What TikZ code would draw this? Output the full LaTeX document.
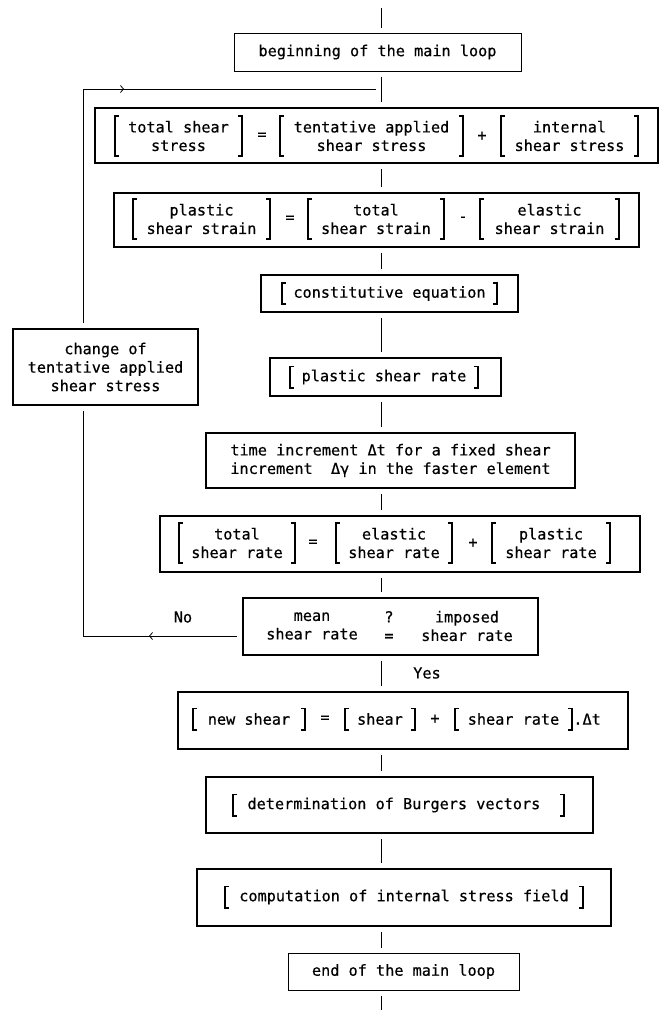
\documentclass[tikz,border=0pt]{standalone}
\usepackage{fontspec}
\setmainfont{DejaVu Sans Mono}[FakeBold=0.5]
\usetikzlibrary{arrows.meta,decorations.markings}
\newcommand\drawbrk[1]{\draw[brkline] ([xshift=4pt]#1.north west) -- (#1.north west) -- (#1.south west) -- ([xshift=4pt]#1.south west) ([xshift=-4pt]#1.north east) -- (#1.north east) -- (#1.south east) -- ([xshift=-4pt]#1.south east);}
\begin{document}
\begin{tikzpicture}[x=1pt,y=-1pt,
  every node/.style={font=\fontsize{15.2}{18.5}\selectfont, inner sep=0pt},
  thinbox/.style={draw, line width=1pt, align=center},
  thickbox/.style={draw, line width=2pt, align=center},
  grp/.style={align=center, minimum height=40pt},
  grpone/.style={align=center, minimum height=21pt},
  link/.style={line width=0.8pt, shorten <=5pt, shorten >=5pt},
  brkline/.style={line width=1.6pt},
  midarrow/.style={postaction={decorate}, decoration={markings, mark=at position #1 with {\arrow{Straight Barb[length=3pt,width=7pt,line width=0.8pt]}}}}
]
\useasboundingbox (0,0) rectangle (664,1010);

% frames
\node[thinbox, minimum width=287pt, minimum height=38pt] (begin) at (377.5,52) {beginning of the main loop};
\node[thickbox, minimum width=563pt, minimum height=55pt] (stress) at (376.5,135.5) {};
\node[thickbox, minimum width=525pt, minimum height=54pt] (strain) at (376.5,220) {};
\node[thickbox, minimum width=257pt, minimum height=37pt] (const) at (389.5,293.5) {};
\node[thickbox, minimum width=231pt, minimum height=38pt] (psr) at (385.5,377) {};
\node[thickbox, minimum width=369pt, minimum height=55pt] (time) at (390.5,460.5) {time increment Δt for a fixed shear\\increment\ \ Δγ in the faster element};
\node[thickbox, minimum width=480pt, minimum height=56pt] (tsr) at (400,544) {};
\node[thickbox, minimum width=295pt, minimum height=57pt] (mean) at (390.5,626.5) {};
\node[thickbox, minimum width=450pt, minimum height=57pt] (newshear) at (403,720.5) {};
\node[thickbox, minimum width=387pt, minimum height=56pt] (burgers) at (399.5,805) {};
\node[thickbox, minimum width=414pt, minimum height=57pt] (comp) at (404,897.5) {};
\node[thinbox, minimum width=231pt, minimum height=37pt] (end) at (403.5,971.5) {end of the main loop};
\node[thickbox, minimum width=185pt, minimum height=76pt] (change) at (105.5,367) {change of\\tentative applied\\shear stress};

% row 1
\node[grp, minimum width=127pt] (g11) at (178.5,136) {total shear\\stress};
\node (o11) at (262,136) {=};
\node[grp, minimum width=183pt] (g12) at (371.5,136) {tentative applied\\shear stress};
\node (o12) at (482,136) {+};
\node[grp, minimum width=137pt] (g13) at (569.5,136) {internal\\shear stress};
% row 2
\node[grp, minimum width=137pt] (g21) at (201.5,219) {plastic\\shear strain};
\node (o21) at (290,219) {=};
\node[grp, minimum width=136pt] (g22) at (376,219) {total\\shear strain};
\node (o22) at (463,219) {-};
\node[grp, minimum width=139pt] (g23) at (549.5,219) {elastic\\shear strain};
% single rows
\node[grpone, minimum width=215pt] (g3) at (389.5,293.5) {constitutive equation};
\node[grpone, minimum width=188pt] (g4) at (384,377) {plastic shear rate};
% shear rate row
\node[grp, minimum width=116pt] (g61) at (237,543) {total\\shear rate};
\node (o61) at (313,543) {=};
\node[grp, minimum width=116pt] (g62) at (394,543) {elastic\\shear rate};
\node (o62) at (473,543) {+};
\node[grp, minimum width=118pt] (g63) at (551,543) {plastic\\shear rate};
% mean row
\node[align=center] (m1) at (312,626) {mean\\shear rate};
\node[align=center] (m2) at (389,626) {?\\=};
\node[align=center] (m3) at (467,626) {imposed\\shear rate};
% new shear row
\node[grpone, minimum width=112pt] (g71) at (249,719) {new shear};
\node (o71) at (325,719) {=};
\node[grpone, minimum width=70pt] (g72) at (380,719) {shear};
\node (o72) at (435,719) {+};
\node[grpone, minimum width=117pt] (g73) at (513.5,719) {shear rate};
\node[anchor=base west] (dt) at ([xshift=1pt]g73.base east) {.Δt};
% burgers, computation
\node[grpone, minimum width=331pt] (g8) at (398.5,805) {determination of Burgers vectors\ };
\node[grpone, minimum width=358pt] (g9) at (404,897) {computation of internal stress field};

\foreach \g in {g11,g12,g13,g21,g22,g23,g3,g4,g61,g62,g63,g71,g72,g73,g8,g9} {\drawbrk{\g}}

% labels
\node (no) at (183,617) {No};
\node (yes) at (427,673) {Yes};

% main axis connectors
\coordinate (top) at (381,8);
\coordinate (bottom) at (381,1010);
\coordinate (join) at (381,89);
\draw[link, shorten <=0pt] (top) -- (begin.north -| top);
\draw[link] (begin.south -| top) -- (stress.north -| top);
\draw[link] (stress.south -| top) -- (strain.north -| top);
\draw[link] (strain.south -| top) -- (const.north -| top);
\draw[link] (const.south -| top) -- (psr.north -| top);
\draw[link] (psr.south -| top) -- (time.north -| top);
\draw[link] (time.south -| top) -- (tsr.north -| top);
\draw[link] (tsr.south -| top) -- (mean.north -| top);
\draw[link] (mean.south -| top) -- (newshear.north -| top);
\draw[link] (newshear.south -| top) -- (burgers.north -| top);
\draw[link] (burgers.south -| top) -- (comp.north -| top);
\draw[link] (comp.south -| top) -- (end.north -| top);
\draw[link, shorten >=0pt] (end.south -| top) -- (bottom);

% feedback loop
\coordinate (c1) at (83,636);
\coordinate (c2) at (83,89);
\draw[link, midarrow=93pt] (mean.west |- c1) -- (c1) -- (change.south -| c1);
\draw[link, midarrow=280pt] (change.north -| c1) -- (c2) -- (join);
\end{tikzpicture}
\end{document}
